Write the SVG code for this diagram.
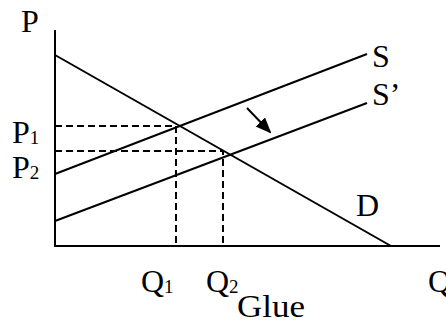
<svg xmlns="http://www.w3.org/2000/svg" width="446" height="330" viewBox="0 0 446 330">
<style>
.ln{stroke:#000;stroke-width:2;fill:none}
.ds{stroke:#000;stroke-width:2;fill:none;stroke-dasharray:7,4}
text{font-family:"Liberation Serif","Times New Roman",serif;font-size:32px;fill:#000}
.sub{font-size:19px}
</style>
<defs>
<marker id="ah" markerWidth="16" markerHeight="14" refX="14" refY="6.5" orient="auto" markerUnits="userSpaceOnUse" viewBox="0 0 16 13">
<path d="M0,0 L16,6.5 L0,13 Z" fill="#000"/>
</marker>
</defs>
<g id="axes">
<path class="ln" d="M55,30 V246 H440"/>
</g>
<g id="connectors">
<line id="D" class="ln" x1="55" y1="55" x2="391" y2="246"/>
<line id="S" class="ln" x1="55" y1="174" x2="367" y2="54"/>
<line id="S2" class="ln" x1="55" y1="221" x2="367" y2="103"/>
<path class="ds" d="M55,126 H176 V246"/>
<path class="ds" d="M55,151 H223 V246"/>
<line id="shift" class="ln" x1="247" y1="108" x2="270" y2="132" marker-end="url(#ah)"/>
</g>
<g id="labels">
<text x="12" y="143">P<tspan class="sub" dy="1">1</tspan></text>
<text x="12" y="178">P<tspan class="sub" dy="1">2</tspan></text>
<text x="21" y="32">P</text>
<text x="372" y="67">S</text>
<text x="372" y="105">S’</text>
<text x="356" y="216">D</text>
<text x="428" y="292">Q</text>
<text x="141" y="292">Q<tspan class="sub" dy="1">1</tspan></text>
<text x="206" y="292">Q<tspan class="sub" dy="1">2</tspan></text>
<text x="237" y="317" textLength="68" lengthAdjust="spacingAndGlyphs">Glue</text>
</g>
</svg>
